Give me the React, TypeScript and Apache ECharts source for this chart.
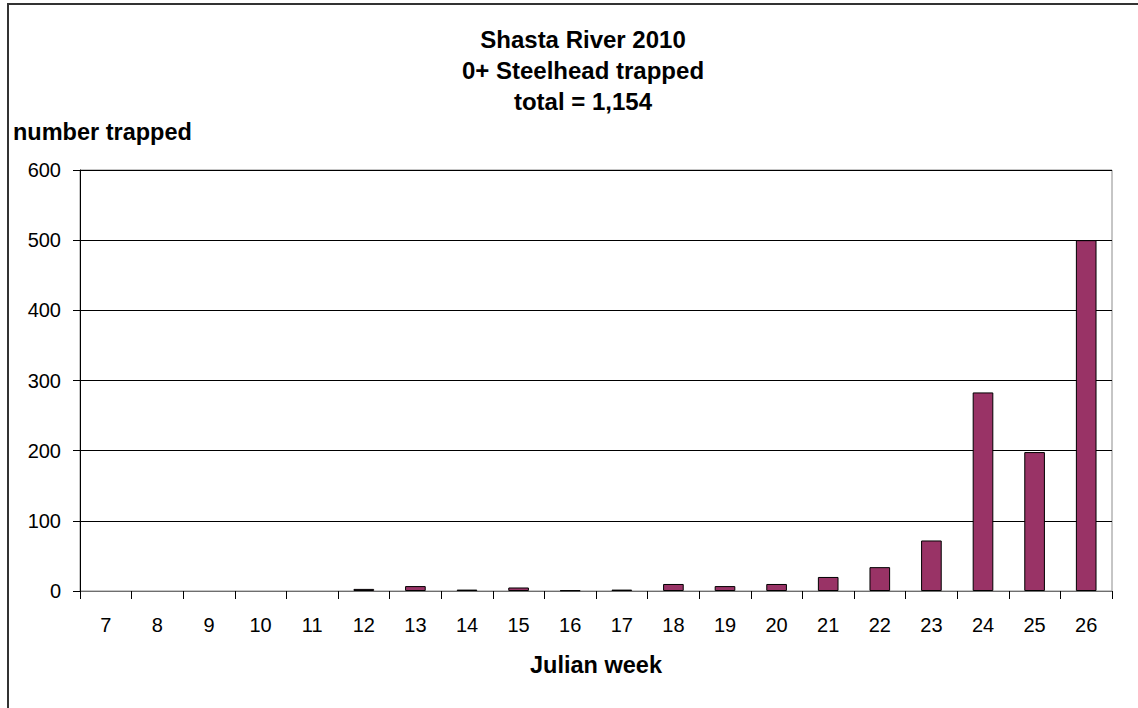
import React, { useEffect, useRef } from "react";
import * as echarts from "echarts";

// Weekly trap counts, Shasta River 2010
const weeks: string[] = ["7", "8", "9", "10", "11", "12", "13", "14", "15", "16", "17", "18", "19", "20", "21", "22", "23", "24", "25", "26"];
const trapped: number[] = [0, 0, 0, 0, 0, 3, 7, 2, 5, 1, 2, 10, 7, 10, 20, 34, 72, 283, 198, 500];
const titleLines: string[] = ["Shasta River 2010", "0+ Steelhead trapped", "total = 1,154"];
const yTicks = { min: 0, max: 600, interval: 100 };

const FONT = "'Liberation Sans', Arial, Helvetica, sans-serif";

export default function App() {
  const ref = useRef<HTMLDivElement>(null);

  useEffect(() => {
    if (!ref.current) return;
    const chart = echarts.init(ref.current, undefined, { renderer: "svg" });
    chart.setOption({
      animation: false,
      backgroundColor: "#ffffff",
      title: {
        text: titleLines.join("\n"),
        left: 578,
        top: 19,
        textAlign: "center",
        textStyle: {
          fontFamily: FONT,
          fontSize: 24,
          fontWeight: "bold",
          color: "#000",
          lineHeight: 31,
        },
      },
      graphic: [
        {
          type: "rect",
          shape: { x: 8, y: 4, width: 1160, height: 740 },
          style: { fill: "none", stroke: "#333", lineWidth: 2 },
          silent: true,
          z: 100,
        },
      ],
      grid: {
        left: 80,
        top: 170,
        width: 1032,
        height: 421,
        outerBoundsMode: "none",
        containLabel: false,
        show: true,
        borderColor: "#8c8c8c",
        borderWidth: 1,
        backgroundColor: "#fff",
      },
      xAxis: {
        type: "category",
        data: weeks,
        name: "Julian week",
        nameLocation: "middle",
        nameGap: 62,
        nameTextStyle: { fontFamily: FONT, fontSize: 23.5, fontWeight: "bold", color: "#000" },
        axisLine: { lineStyle: { color: "#6e6e6e", width: 1 } },
        axisTick: { show: true, length: 8, alignWithLabel: false, lineStyle: { color: "#000" } },
        axisLabel: { fontFamily: FONT, fontSize: 20, color: "#000", margin: 24 },
      },
      yAxis: {
        type: "value",
        min: yTicks.min,
        max: yTicks.max,
        interval: yTicks.interval,
        name: "number trapped",
        nameLocation: "end",
        nameGap: 26,
        nameTextStyle: {
          fontFamily: FONT,
          fontSize: 23.5,
          fontWeight: "bold",
          color: "#000",
          align: "left",
          padding: [0, 0, 0, -67],
        },
        axisLine: { show: true, lineStyle: { color: "#000", width: 1 } },
        axisTick: { show: true, length: 7, lineStyle: { color: "#000" } },
        axisLabel: { fontFamily: FONT, fontSize: 20, color: "#000", margin: 19 },
        splitLine: { show: true, lineStyle: { color: "#000", width: 1 } },
      },
      series: [
        {
          type: "bar",
          // empty weeks draw no outline
          data: trapped.map((v) => (v === 0 ? { value: v, itemStyle: { borderWidth: 0 } } : v)),
          barWidth: "40%",
          itemStyle: { color: "#993366", borderColor: "#000", borderWidth: 1 },
        },
      ],
    });
    return () => chart.dispose();
  }, []);

  return (
    <div
      ref={ref}
      style={{ position: "absolute", left: 0, top: 0, width: 1138, height: 708 }}
    />
  );
}
